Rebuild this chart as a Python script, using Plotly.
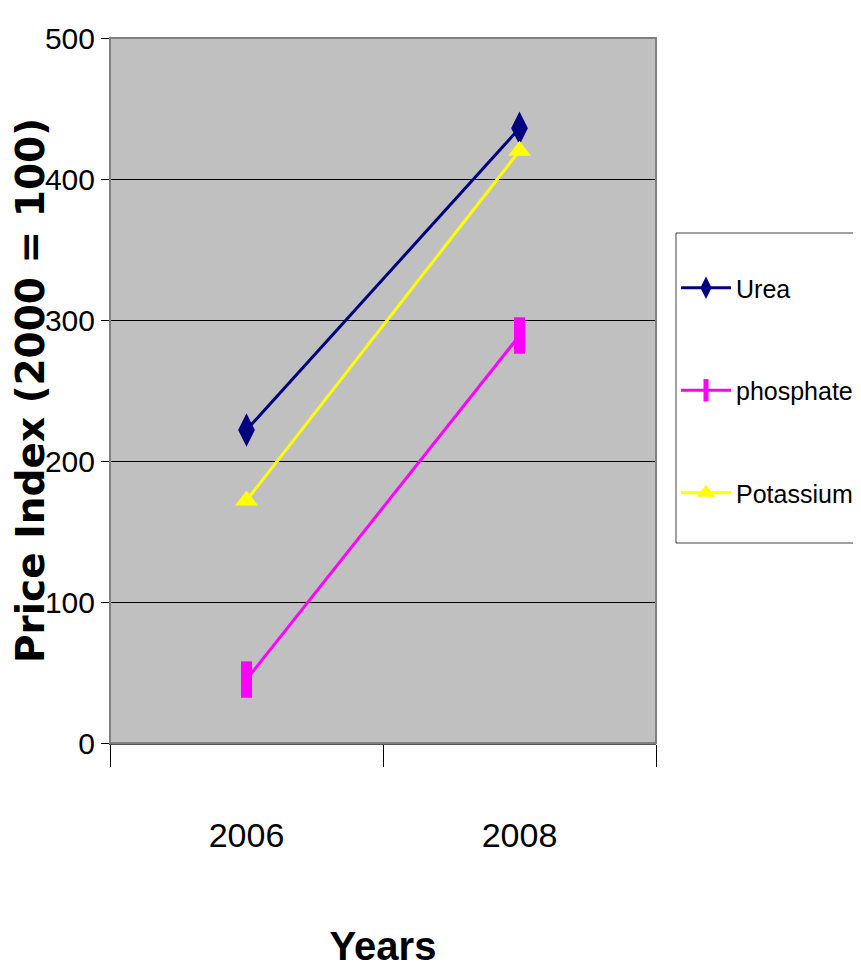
import plotly.graph_objects as go

years = ["2006", "2008"]
urea = [222, 436]
phosphate = [45, 289]
potassium = [172, 420]
y_ticks = [0, 100, 200, 300, 400, 500]

NARROW = "Liberation Sans Narrow, Arial Narrow, Liberation Sans, Arial, sans-serif"

fig = go.Figure()
fig.add_trace(go.Scatter(
    x=years, y=urea, name="Urea", mode="lines+markers", legendgroup="a",
    line=dict(color="#000080", width=3),
    marker=dict(symbol="diamond-tall", size=24, color="#000080")))
fig.add_trace(go.Scatter(
    x=years, y=phosphate, name="phosphate", mode="lines+markers", legendgroup="b",
    line=dict(color="#FF00FF", width=3),
    marker=dict(symbol="line-ns-open", size=26, color="#FF00FF",
                line=dict(color="#FF00FF", width=11))))
fig.add_trace(go.Scatter(
    x=years, y=potassium, name="Potassium", mode="lines+markers", legendgroup="c",
    line=dict(color="#FFFF00", width=3),
    marker=dict(symbol="triangle-up", size=20, color="#FFFF00")))

# page body has an 8px margin; figure sized to fit the 861x975 window
fig.update_layout(
    width=853, height=967,
    margin=dict(l=102, r=205, t=30, b=232, autoexpand=False),
    paper_bgcolor="white", plot_bgcolor="#C0C0C0",
    font=dict(family=NARROW, color="black", size=30),
    showlegend=True,
    legend=dict(
        x=(668 - 102) / 546, xanchor="left",
        y=(735 - 257) / 705, yanchor="top",
        bgcolor="rgba(0,0,0,0)", borderwidth=0,
        font=dict(family=NARROW, size=25, color="black"),
        tracegroupgap=67, itemwidth=50,
    ),
)

# legend frame (extends past the right edge as in the reference)
fig.add_shape(type="rect", xref="paper", yref="paper",
              x0=(668 - 102) / 546, x1=(870 - 102) / 546,
              y0=(735 - 535) / 705, y1=(735 - 225) / 705,
              line=dict(color="#404040", width=1), fillcolor="white", layer="below")

fig.update_xaxes(
    type="category", range=[-0.5, 1.5], automargin=False,
    tickson="boundaries", ticks="outside", ticklen=22, tickcolor="black", tickwidth=1,
    showgrid=False, showline=True, linecolor="#555555", linewidth=2,
    tickfont=dict(family=NARROW, size=34),
    ticklabelstandoff=61,
    title=dict(text="<b>Years</b>", font=dict(family=NARROW, size=40), standoff=79),
)
fig.update_yaxes(
    range=[0, 500], tickvals=y_ticks, ticks="outside", ticklen=8, tickcolor="black",
    automargin=False,
    showgrid=True, gridcolor="black", gridwidth=1,
    showline=True, linecolor="black", linewidth=1, zeroline=False,
    tickfont=dict(family=NARROW, size=30),
    title=dict(text="Price Index (2000 = 100)",
               font=dict(family="DejaVu Sans", size=39, weight="bold"), standoff=8),
)

# plot area border (top/right/bottom gray)
fig.add_shape(type="rect", xref="paper", yref="paper", x0=0, y0=0, x1=1, y1=1,
              line=dict(color="#808080", width=2), layer="above")

fig.write_html("out.html")
